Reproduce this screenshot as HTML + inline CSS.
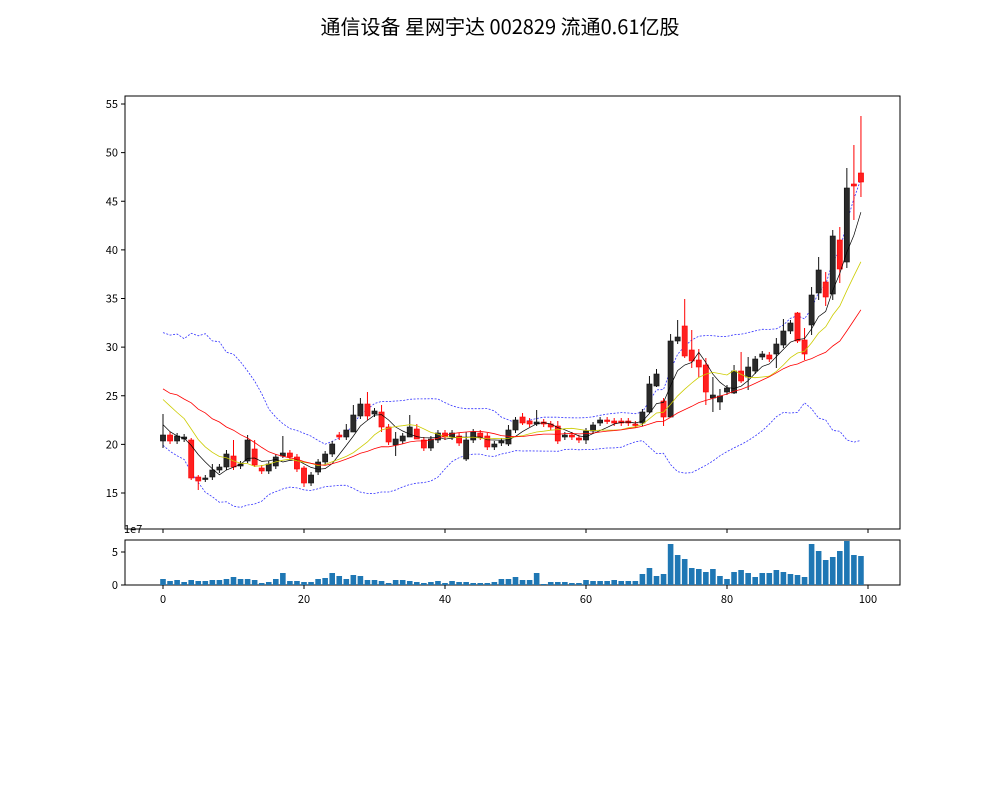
<!DOCTYPE html>
<html><head><meta charset="utf-8"><style>
body{margin:0;background:#fff}
svg text{font-family:"WenQuanYi Zen Hei","Noto Sans CJK SC",sans-serif}
</style></head><body>
<svg id="s" width="1000" height="800" xmlns="http://www.w3.org/2000/svg">
<rect width="1000" height="800" fill="#fff"/>
<text x="500" y="34" font-size="20" text-anchor="middle">通信设备 星网宇达 002829 流通0.61亿股</text>
<g id="g"></g>
</svg>
<script>
const C=[[435,441,'u'],[435,441,'d'],[436,441,'u'],[437,439,'u'],[440,478,'d'],[477,481,'d'],[478,479,'u'],[470,477,'u'],[467,470,'u'],[454,467,'u'],
[456,467,'d'],[464,466,'u'],[440,461,'u'],[449,465,'d'],[468,471,'d'],[464,471,'u'],[457,466,'u'],[453,456,'u'],[453,457,'d'],[457,469,'d'],
[468,483,'d'],[475,483,'u'],[462,472,'u'],[454,462,'u'],[444,454,'u'],[435,437,'d'],[430,437,'u'],[415,432,'u'],[404,416,'u'],[404,416,'d'],
[411,414,'u'],[412,427,'d'],[427,442,'d'],[439,445,'u'],[436,441,'u'],[427,437,'u'],[429,439,'d'],[440,448,'d'],[439,448,'u'],[433,440,'u'],
[433,437,'d'],[433,437,'u'],[436,443,'d'],[440,459,'u'],[432,440,'u'],[433,437,'d'],[436,447,'d'],[444,447,'u'],[441,443,'u'],[430,444,'u'],
[420,430,'u'],[417,423,'d'],[421,424,'d'],[422,424,'u'],[422,424,'d'],[424,427,'d'],[426,441,'d'],[435,437,'u'],[435,437,'d'],[438,440,'d'],
[431,440,'u'],[425,431,'u'],[420,423,'u'],[420,421,'d'],[421,423,'d'],[421,423,'d'],[421,423,'d'],[424,425,'d'],[412,423,'u'],[384,412,'u'],
[374,386,'u'],[401,417,'d'],[341,417,'u'],[337,341,'u'],[326,356,'d'],[350,361,'d'],[360,367,'d'],[365,392,'d'],[395,398,'u'],[396,402,'u'],
[388,392,'u'],[371,393,'u'],[371,381,'d'],[367,377,'u'],[359,371,'u'],[354,357,'u'],[355,359,'d'],[344,354,'u'],[331,345,'u'],[323,331,'u'],
[313,341,'d'],[340,354,'d'],[295,325,'u'],[270,293,'u'],[282,297,'d'],[236,294,'u'],[240,269,'d'],[188,262,'u'],[184,186,'d'],[173,182,'d']];
const W={0:[414,448],4:[438,480],5:[475,490],7:[464,480],9:[450,470],10:[440,470],12:[435,463],13:[440,467],17:[436,458],20:[466,487],26:[424,440],27:[405,432],28:[398,419],29:[392,420],31:[405,432],33:[432,456],35:[415,437],36:[424,439],43:[432,461],49:[425,446],51:[413,425],53:[410,426],56:[421,444],60:[428,444],69:[376,413],70:[369,387],71:[398,426],72:[334,417],73:[320,344],74:[299,358],75:[330,368],76:[349,377],77:[358,405],78:[377,412],79:[389,410],81:[365,394],82:[352,383],83:[357,390],87:[338,368],88:[319,348],90:[312,343],91:[328,360],92:[287,335],93:[257,300],94:[272,306],95:[230,300],96:[227,283],97:[168,268],98:[145,220],99:[116,197]};
const V=[132,138,135,141,135,138,138,135,135,132,126,132,132,135,144,141,132,114,138,138,141,141,132,129,114,123,132,120,123,135,135,138,144,135,135,138,141,144,141,138,144,138,141,141,144,144,144,141,132,
132,126,135,135,114,147,141,141,141,144,144,135,138,138,138,135,138,138,138,117,99,123,117,27,60,72,99,102,111,102,123,132,111,105,114,126,114,114,105,111,117,120,126,27,48,75,66,48,18,60,63];
const X=i=>163+7.05*i, py=v=>493-(v-15)*9.725;
let h='';
h+='<rect x="125" y="96" width="775" height="433" fill="none" stroke="#000" stroke-width="1"/>';
for(let v=15;v<=55;v+=5){const y=py(v);h+=`<line x1="121" y1="${y}" x2="125" y2="${y}" stroke="#000"/><text x="118" y="${y+4}" font-size="11" text-anchor="end">${v}</text>`;}
for(let t=0;t<=100;t+=20){h+=`<line x1="${X(t)}" y1="529" x2="${X(t)}" y2="533" stroke="#000"/>`;}
const cl=C.map(c=>c[2]=='u'?c[0]:c[1]);
const pads=[29.4,24.2,29.4,24.2,29.4,24.2,29.4,24.2,29.4,24.2,27.2,27.4,27.0,27.3,27.1,24,23,22,20.2].map(py);
const all=pads.concat(cl),P=pads.length;
function ma(n,i){let s=0;for(let k=i-n+1;k<=i;k++)s+=all[k];return s/n;}
let m5=[],m10=[],m20=[],up=[],lo=[];
for(let i=0;i<100;i++){const j=i+P;m5.push(ma(5,j));m10.push(ma(10,j));const m=ma(20,j);m20.push(m);
let s=0;for(let k=j-19;k<=j;k++)s+=(all[k]-m)**2;const sd=Math.sqrt(s/20);up.push(m-2*sd);lo.push(m+2*sd);}
const pl=(a,col,w,d)=>`<polyline fill="none" stroke="${col}" stroke-width="${w}" ${d?'stroke-dasharray="2,1.5"':''} points="${a.map((y,i)=>X(i).toFixed(1)+','+Math.min(528,Math.max(97,y)).toFixed(1)).join(' ')}"/>`;
h+='<g clip-path="url(#cp)">';
h+=pl(up,'#3333ff',0.8,1)+pl(lo,'#3333ff',0.8,1);
C.forEach((c,i)=>{const x=X(i);const w=W[i]||[c[0]-3,c[1]+3];const col=c[2]=='u'?'#111':'#ff0000';const fill=c[2]=='u'?'#2a2a2a':'#ff2020';
h+=`<line x1="${x}" y1="${w[0]}" x2="${x}" y2="${w[1]}" stroke="${col}" stroke-width="1"/>`;
h+=`<rect x="${x-2.6}" y="${c[0]}" width="5.2" height="${Math.max(1.5,c[1]-c[0])}" fill="${fill}" stroke="${col}" stroke-width="0.6"/>`;});
h+=pl(m5,'#000',0.7)+pl(m10,'#cccc00',0.8)+pl(m20,'#ff0000',0.8);
h+='</g>';
h+='<rect x="125" y="540" width="775" height="45" fill="none" stroke="#000"/>';
V.forEach((t,i)=>{const hh=(150-t)/3;h+=`<rect x="${X(i)-2.8}" y="${585-hh}" width="5.6" height="${hh}" fill="#1f77b4"/>`;});
h+='<line x1="121" y1="585" x2="125" y2="585" stroke="#000"/><text x="118" y="589" font-size="11" text-anchor="end">0</text>';
h+='<line x1="121" y1="552" x2="125" y2="552" stroke="#000"/><text x="118" y="556" font-size="11" text-anchor="end">5</text>';
h+='<text x="124" y="533" font-size="11">1e7</text>';
for(let t=0;t<=100;t+=20){h+=`<line x1="${X(t)}" y1="585" x2="${X(t)}" y2="589" stroke="#000"/><text x="${X(t)}" y="603" font-size="11" text-anchor="middle">${t}</text>`;}
document.getElementById('g').innerHTML='<defs><clipPath id="cp"><rect x="125" y="96" width="775" height="433"/></clipPath></defs>'+h;
</script>
</body></html>
